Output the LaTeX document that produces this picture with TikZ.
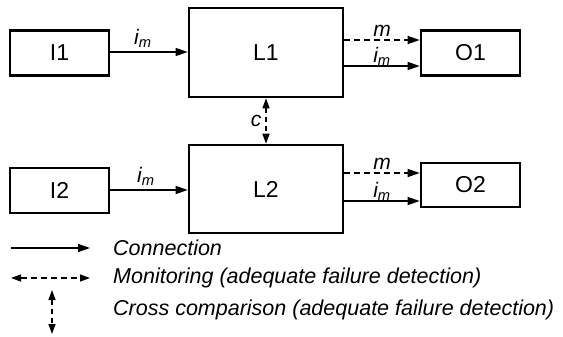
\documentclass[tikz,border=0pt]{standalone}
\usepackage{fontspec}
\setmainfont{Liberation Sans}
\usetikzlibrary{arrows.meta}
\begin{document}
\begin{tikzpicture}[x=1pt,y=-1pt,
  blk/.style={draw,line width=2.6pt,inner sep=0pt,font=\fontsize{23}{23}\selectfont},
  tip/.style={-{Triangle[length=12pt,width=8pt]}},
  btip/.style={{Triangle[length=10pt,width=7pt]}-{Triangle[length=10pt,width=7pt]}},
  conn/.style={line width=1.4pt,tip},
  mon/.style={line width=1.4pt,tip,dash pattern=on 6pt off 4pt},
  lbl/.style={font=\fontsize{21}{21}\selectfont\itshape,inner sep=1pt},
  leg/.style={font=\fontsize{21.5}{21.5}\selectfont\itshape,anchor=west,inner sep=0pt}]
\useasboundingbox (0,0) rectangle (563,337);
\node[blk,minimum width=99pt,minimum height=45pt] (I1) at (59.5,53) {I1};
\node[blk,minimum width=99pt,minimum height=45pt] (I2) at (59.5,190.5) {I2};
\node[blk,minimum width=154pt,minimum height=89pt] (L1) at (266,52.5) {L1};
\node[blk,minimum width=154pt,minimum height=88pt] (L2) at (266,189) {L2};
\node[blk,minimum width=99pt,minimum height=45pt] (O1) at (470.5,53) {O1};
\node[blk,minimum width=99pt,minimum height=44pt] (O2) at (470.5,185) {O2};
% inputs
\draw[conn] (I1.east |- 0,52) -- (L1.west |- 0,52) node[lbl,pos=0.42,above=3pt] {i\textsubscript{m}};
\draw[conn] (I2.east |- 0,190) -- (L2.west |- 0,190) node[lbl,pos=0.46,above=3pt] {i\textsubscript{m}};
% outputs
\draw[mon] (L1.east |- 0,40) -- (O1.west |- 0,40) node[lbl,midway,above=2pt] {m};
\draw[conn] (L1.east |- 0,66) -- (O1.west |- 0,66) node[lbl,midway,above=-1pt] {i\textsubscript{m}};
\draw[mon] (L2.east |- 0,173) -- (O2.west |- 0,173) node[lbl,midway,above=2pt] {m};
\draw[conn] (L2.east |- 0,201) -- (O2.west |- 0,201) node[lbl,midway,above=-1pt] {i\textsubscript{m}};
% cross comparison
\draw[line width=1.4pt,btip,dash pattern=on 5pt off 4pt] (L1.south) -- (L2.north) node[lbl,midway,left=3pt] {c};
% legend
\coordinate (a1) at (11,248); \coordinate (a2) at (90,248);
\coordinate (b1) at (11,278); \coordinate (b2) at (90,278);
\coordinate (c1) at (52,290); \coordinate (c2) at (52,334);
\draw[conn] (a1) -- (a2);
\draw[line width=1.4pt,btip,dash pattern=on 6pt off 4pt] (b1) -- (b2);
\draw[line width=1.4pt,btip,dash pattern=on 5pt off 4pt] (c1) -- (c2);
\node[leg] (t1) at (113,248) {Connection};
\node[leg] (t2) at (113,278) {Monitoring (adequate failure detection)};
\node[leg] (t3) at (113,310) {Cross comparison (adequate failure detection)};
\end{tikzpicture}
\end{document}
